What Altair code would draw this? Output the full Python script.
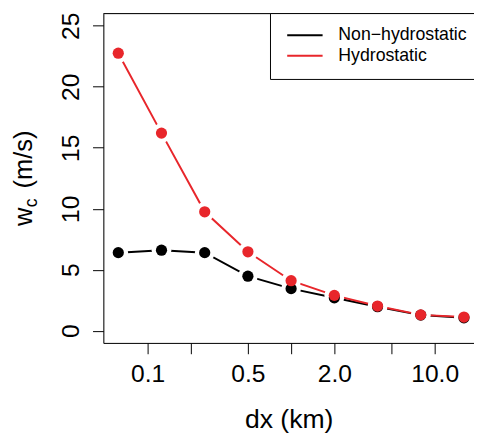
import altair as alt
import pandas as pd

# ---- data ----
dx = [0.0625, 0.125, 0.25, 0.5, 1, 2, 4, 8, 16]
non_hydrostatic = [6.4, 6.6, 6.4, 4.47, 3.45, 2.7, 1.97, 1.28, 1.06]
hydrostatic = [22.75, 16.2, 9.75, 6.47, 4.1, 2.9, 2.02, 1.3, 1.12]
series_names = ["Non\u2212hydrostatic", "Hydrostatic"]
series_colors = ["#000000", "#E8262B"]
x_ticks = [0.1, 0.2, 0.5, 1, 2, 5, 10]
x_labeled = [0.1, 0.5, 2, 10]
y_ticks = [0, 5, 10, 15, 20, 25]

rows = []
for name, vals in zip(series_names, [non_hydrostatic, hydrostatic]):
    for d, v in zip(dx, vals):
        rows.append({"dx": d, "wc": v, "series": name})
df = pd.DataFrame(rows)

FONT = "Liberation Sans"
W, H = 377, 335

xscale = alt.Scale(type="log", domain=[0.0492, 18.8], nice=False, zero=False)
yscale = alt.Scale(domain=[-1, 26], nice=False, zero=False)
color = alt.Color("series:N", scale=alt.Scale(domain=series_names, range=series_colors), legend=None)

label_list = ",".join(str(v) for v in x_labeled)
x_axis = alt.Axis(
    values=x_ticks,
    labelExpr=f"indexof([{label_list}], datum.value) >= 0 ? format(datum.value, '.1f') : ''",
    title="dx (km)",
    titleFontSize=27, titleFont=FONT, titleFontWeight="normal", titleColor="black",
    titlePadding=21,
    labelFontSize=25, labelFont=FONT, labelColor="black", labelPadding=8,
    labelOverlap=False, labelFlush=False, labelBound=False,
    tickSize=11, tickColor="black", tickWidth=1,
    domainColor="black", domainWidth=1, grid=False,
)
y_axis = alt.Axis(
    values=y_ticks, title=None,
    labelFontSize=25, labelFont=FONT, labelColor="black",
    labelAngle=270, labelAlign="center", labelBaseline="alphabetic", labelPadding=14,
    labelOverlap=False, labelFlush=False, labelBound=False,
    tickSize=11, tickColor="black", tickWidth=1,
    domainColor="black", domainWidth=1, grid=False,
)

base = alt.Chart(df)
x_enc = alt.X("dx:Q", scale=xscale, axis=x_axis)
y_enc = alt.Y("wc:Q", scale=yscale, axis=y_axis)

lines = base.mark_line(strokeWidth=2).encode(x=x_enc, y=y_enc, color=color, detail="series:N", order="dx:Q")
halos = base.mark_circle(size=400, color="white", opacity=1).encode(x=x_enc, y=y_enc)
points = base.mark_circle(size=130, opacity=1).encode(x=x_enc, y=y_enc, color=color)

one = alt.Data(values=[{"k": 1}])
top_rule = alt.Chart(one).mark_rule(color="black", strokeWidth=1).encode(
    x=alt.value(0), x2=alt.value(W), y=alt.value(0))

legend_box = alt.Chart(one).mark_rect(fill="white", stroke="black", strokeWidth=1).encode(
    x=alt.value(170), x2=alt.value(W + 10), y=alt.value(0), y2=alt.value(67))

legend_layers = [legend_box]
for i, (name, col) in enumerate(zip(series_names, series_colors)):
    yy = 22 + 21 * i
    legend_layers.append(alt.Chart(one).mark_rule(color=col, strokeWidth=2).encode(
        x=alt.value(187), x2=alt.value(223), y=alt.value(yy)))
    legend_layers.append(alt.Chart(one).mark_text(
        text=name, font=FONT, fontSize=18, align="left", baseline="middle", color="black").encode(
        x=alt.value(239), y=alt.value(yy)))

# y-axis title  w_c (m/s), with subscript
ytitle = [
    alt.Chart(one).mark_text(text="w", font=FONT, fontSize=26, angle=270, align="left",
                             baseline="alphabetic", color="black").encode(x=alt.value(-73), y=alt.value(216)),
    alt.Chart(one).mark_text(text="c", font=FONT, fontSize=18, angle=270, align="left",
                             baseline="alphabetic", color="black").encode(x=alt.value(-67), y=alt.value(197)),
    alt.Chart(one).mark_text(text="(m/s)", font=FONT, fontSize=26, angle=270, align="left",
                             baseline="alphabetic", color="black").encode(x=alt.value(-73), y=alt.value(178)),
]

chart = alt.layer(
    lines, halos, points, top_rule, *legend_layers, *ytitle
).properties(
    width=W, height=H,
    autosize=alt.AutoSizeParams(type="none"),
    padding={"left": 97, "top": 2, "right": 0, "bottom": 90},
).configure_view(stroke=None).configure(background="white")

chart.save("out.html", embed_options={"renderer": "svg", "actions": False})
